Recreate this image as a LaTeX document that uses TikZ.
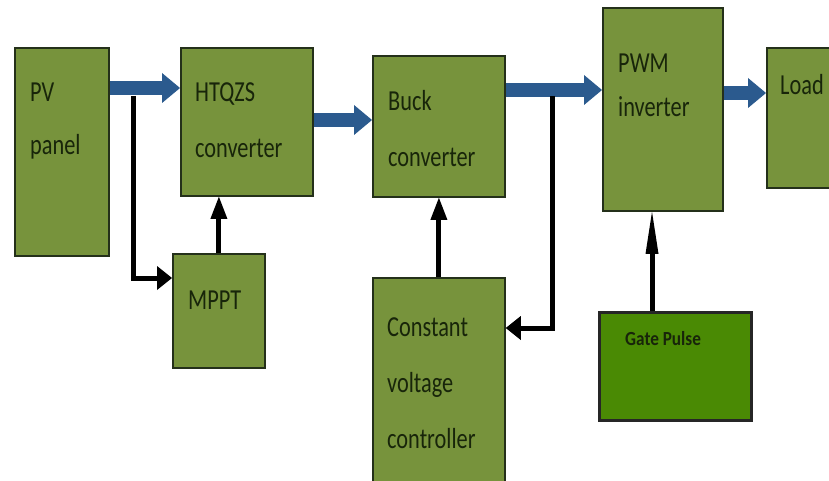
\documentclass[tikz,border=0pt]{standalone}
\usepackage{fontspec}
\newfontfamily\boxfont[FakeStretch=0.77]{Carlito}
\newfontfamily\gatefont[FakeStretch=0.86]{Carlito}
\usetikzlibrary{arrows.meta,positioning,calc}
\definecolor{olivebox}{HTML}{77933C}
\definecolor{gatebox}{HTML}{4A8A04}
\definecolor{boxline}{HTML}{24301A}
\definecolor{boxtext}{HTML}{18250A}
\definecolor{flowblue}{HTML}{2B5A8E}

\begin{document}
\begin{tikzpicture}[x=1pt,y=-1pt,
  blk/.style={draw=boxline,line width=1.8pt,fill=olivebox,anchor=north west,inner sep=0pt},
  lbl/.style={anchor=base west,align=left,inner sep=0pt,text=boxtext,font=\boxfont\fontsize{29}{56}\selectfont},
  flow/.style={flowblue,line width=14pt,-{Triangle[length=18pt,width=30pt,line width=0pt]}},
  ctlh/.style={line width=5pt,-{Triangle[length=15pt,width=24pt,line width=0pt]}},
  ctlv/.style={line width=5pt,-{Triangle[length=22pt,width=17pt,line width=0pt]}}]
\clip (0,0) rectangle (829,481);
\fill[white] (0,0) rectangle (829,481);
% blocks
\node[blk,minimum width=94pt,minimum height=208pt] (pv) at (14,47) {};
\node[blk,minimum width=132pt,minimum height=148pt] (htq) at (180,47) {};
\node[blk,minimum width=132pt,minimum height=141pt] (buck) at (372,55) {};
\node[blk,minimum width=120pt,minimum height=203pt] (pwm) at (602,7) {};
\node[blk,minimum width=80pt,minimum height=140pt] (load) at (766,47) {};
\node[blk,minimum width=92pt,minimum height=114pt] (mppt) at (172,253) {};
\node[blk,minimum width=132pt,minimum height=215pt] (cvc) at (372,277) {};
\node[blk,fill=gatebox,draw=black!85,line width=3pt,minimum width=152pt,minimum height=108pt] (gate) at (598,311) {};
% labels (base = last line)
\node[lbl] (pvt) at ($(pv.north west)+(16,108)$) {PV\\[-3pt]panel};
\node[lbl] (htqt) at ($(htq.north west)+(15,111)$) {HTQZS\\converter};
\node[lbl] (buckt) at ($(buck.north west)+(16,112)$) {Buck\\converter};
\node[lbl] (pwmt) at ($(pwm.north west)+(16,110)$) {PWM\\[-12pt]inverter};
\node[lbl] (loadt) at ($(load.north west)+(14,48)$) {Load};
\node[lbl] (mpptt) at ($(mppt.north west)+(16,56)$) {MPPT};
\node[lbl] (cvct) at ($(cvc.north west)+(15,171)$) {Constant\\voltage\\controller};
\node[lbl,font=\gatefont\bfseries\fontsize{20}{24}\selectfont] (gatet) at ($(gate.north west)+(27,34)$) {Gate Pulse};
% power flow
\draw[flow] ($(pv.north east)+(0,41)$) -- ($(htq.north west)+(0,41)$);
\draw[flow] ($(htq.north east)+(0,73)$) -- ($(buck.north west)+(0,65)$);
\draw[flow] ($(buck.north east)+(0,35)$) -- ($(pwm.north west)+(0,83)$);
\draw[flow] ($(pwm.north east)+(0,86)$) -- ($(load.north west)+(0,46)$);
% control paths
\coordinate (tapA) at (133,96);
\coordinate (tapB) at (552,96);
\draw[ctlh] (tapA) |- ($(mppt.north west)+(0,25)$);
\draw[ctlh] (tapB) |- ($(cvc.north east)+(0,51)$);
\draw[ctlv] (mppt.north) -- (mppt.north |- htq.south);
\draw[ctlv] (cvc.north) -- (cvc.north |- buck.south);
\draw[line width=5pt,-{Triangle[length=42pt,width=13pt,line width=0pt]}] ($(gate.north west)+(54,0)$) -- ($(pwm.south west)+(50,0)$);
\end{tikzpicture}
\end{document}
